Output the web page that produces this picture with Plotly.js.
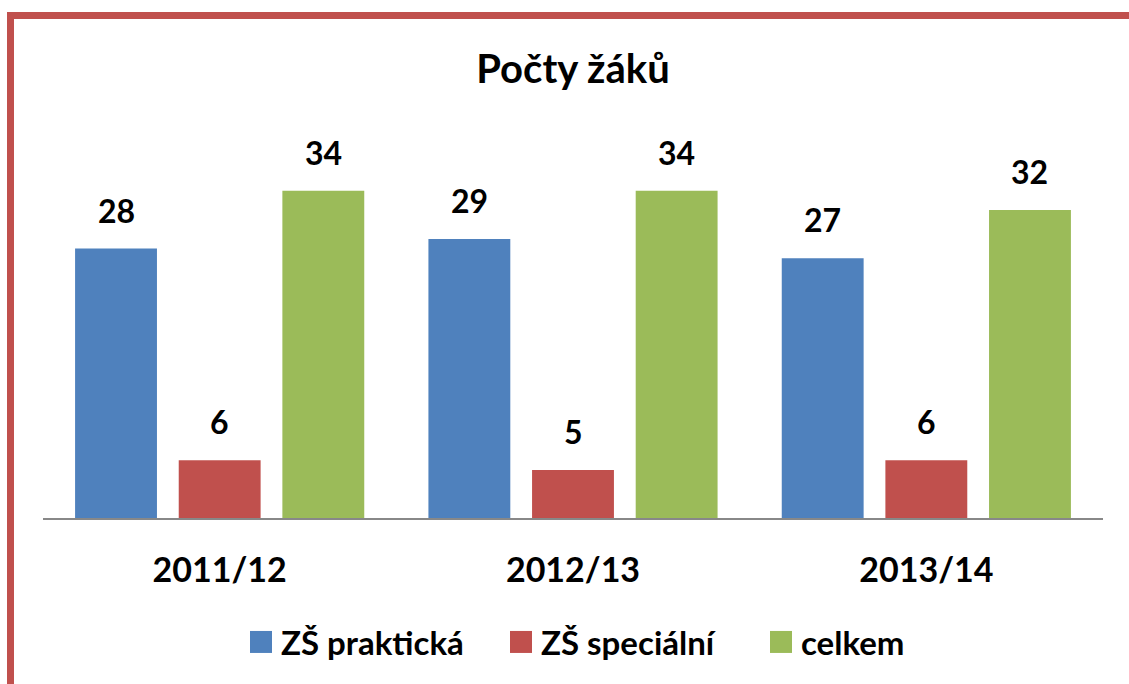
<!DOCTYPE html>
<html>
<head>
<meta charset="utf-8">
<script src="https://cdn.plot.ly/plotly-3.0.1.min.js"></script>
<style>
  html, body { margin: 0; padding: 0; background: #fff; }
  #chart { width: 1129px; height: 684px; }
</style>
</head>
<body>
<div id="chart"></div>
<script>
// ---- data ----
const categories = ["2011/12", "2012/13", "2013/14"];
const seriesNames = ["ZŠ praktická", "ZŠ speciální", "celkem"];
const praktickaValues = [28, 29, 27];
const specialniValues = [6, 5, 6];
const celkemValues = [34, 34, 32];
const seriesColors = ["#4F81BD", "#C0504D", "#9BBB59"];

const allValues = [praktickaValues, specialniValues, celkemValues];

// ---- layout constants ----
const W = 1129, H = 684;
const M = { l: 43, r: 26, t: 133, b: 166, autoexpand: false };
const BARGAP = 0.12, BARGROUPGAP = 0.21;
const plotW = W - M.l - M.r;
const plotH = H - M.t - M.b;
const catW = plotW / categories.length;
const pitch = catW * (1 - BARGAP) / seriesNames.length;

const FONT = "Lato, 'Open Sans', 'DejaVu Sans', sans-serif";

const traces = allValues.map((vals, i) => ({
  type: "bar",
  name: seriesNames[i],
  x: categories,
  y: vals,
  marker: { color: seriesColors[i], line: { width: 0 } },
  hoverinfo: "x+y+name"
}));

const annotations = [];
allValues.forEach((vals, i) => {
  vals.forEach((v, j) => {
    annotations.push({
      x: categories[j], y: v, xref: "x", yref: "y",
      text: String(v), showarrow: false,
      xanchor: "center", yanchor: "bottom",
      xshift: (i - 1) * pitch, yshift: 17,
      font: { family: FONT, size: 32, color: "#000", weight: 700 }
    });
  });
});

const layout = {
  width: W, height: H,
  margin: M,
  paper_bgcolor: "#fff",
  plot_bgcolor: "#fff",
  barmode: "group",
  bargap: BARGAP,
  bargroupgap: BARGROUPGAP,
  font: { family: FONT, color: "#000", weight: 700 },
  title: {
    text: "Počty žáků",
    font: { family: FONT, size: 40, color: "#000", weight: 700 },
    x: 0.5, xref: "paper", xanchor: "center",
    y: 1 - 69 / H, yref: "container", yanchor: "middle"
  },
  xaxis: {
    type: "category",
    showline: true, linecolor: "#888888", linewidth: 1.5,
    ticks: "", showgrid: false, zeroline: false,
    ticklabelstandoff: 22,
    tickfont: { family: FONT, size: 34, color: "#000", weight: 700 },
    fixedrange: true
  },
  yaxis: {
    range: [0, 40], visible: false, showgrid: false, zeroline: false, fixedrange: true
  },
  showlegend: true,
  legend: {
    orientation: "h",
    x: (241 - M.l) / plotW, xanchor: "left",
    y: ((H - M.b) - 642) / plotH, yanchor: "middle",
    font: { family: FONT, size: 33, color: "#000", weight: 700 },
    entrywidth: 215, entrywidthmode: "pixels",
    bgcolor: "rgba(0,0,0,0)"
  },
  annotations: annotations,
  shapes: [{
    type: "rect", xref: "paper", yref: "paper",
    x0: (10.5 - M.l) / plotW, x1: (1160 - M.l) / plotW,
    y0: ((H - M.b) - 720) / plotH, y1: ((H - M.b) - 15.5) / plotH,
    line: { color: "#C0504D", width: 7 },
    fillcolor: "rgba(0,0,0,0)", layer: "above"
  }]
};

Plotly.newPlot("chart", traces, layout, { displayModeBar: false, staticPlot: true }).then(() => {
  document.querySelectorAll(".legend .legendpoints path").forEach(p => {
    p.setAttribute("d", "M11,11H-11V-11H11Z");
  });
});
</script>
</body>
</html>
